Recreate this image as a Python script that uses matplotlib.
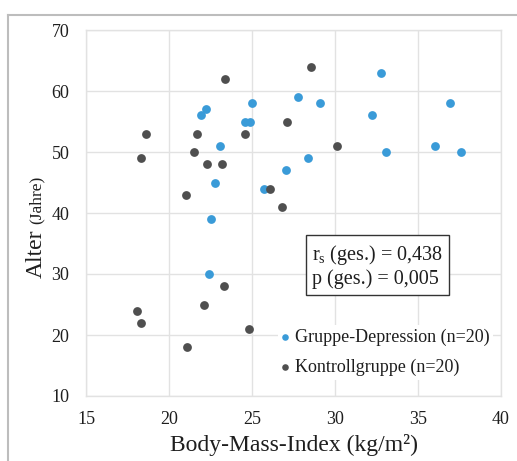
import matplotlib
matplotlib.use("Agg")
import matplotlib.pyplot as plt
from matplotlib.lines import Line2D

plt.rcParams["font.family"] = ["Liberation Serif", "DejaVu Serif"]
plt.rcParams["mathtext.fontset"] = "custom"
plt.rcParams["mathtext.rm"] = "Liberation Serif"
plt.rcParams["mathtext.it"] = "Liberation Serif:italic"

# BMI (kg/m²) and age (years) per participant
dep_bmi = [27.8, 25.0, 22.2, 21.9, 24.6, 24.9, 23.05, 27.05, 22.8, 25.7,
           22.5, 32.75, 29.1, 36.9, 32.2, 36.0, 33.1, 37.6, 28.4, 22.4]
dep_age = [59, 58, 57, 56, 55, 55, 51, 47, 45, 44,
           39, 63, 58, 58, 56, 51, 50, 50, 49, 30]

ctl_bmi = [23.4, 27.1, 18.6, 21.7, 24.6, 21.5, 18.3, 22.3, 23.2, 26.1,
           21.0, 26.8, 28.55, 30.1, 23.3, 22.1, 18.1, 18.3, 24.8, 21.1]
ctl_age = [62, 55, 53, 53, 53, 50, 49, 48, 48, 44,
           43, 41, 64, 51, 28, 25, 24, 22, 21, 18]

x_ticks = [15, 20, 25, 30, 35, 40]
y_ticks = [10, 20, 30, 40, 50, 60, 70]

labels = ["Gruppe-Depression (n=20)", "Kontrollgruppe (n=20)"]
stats_text = "r$_{\\mathrm{s}}$ (ges.) = 0,438\np (ges.) = 0,005"

BLUE = "#3a9bd8"
DARK = "#4f4f4f"
GRID = "#e2e2e2"
TEXT = "#1e1e1e"

W, H = 517, 461
fig = plt.figure(figsize=(W / 100, H / 100), dpi=100)
ax = fig.add_axes([86 / W, 1 - 396 / H, (501 - 86) / W, (396 - 30) / H])

ax.scatter(dep_bmi, dep_age, s=40, color=BLUE, linewidths=0, zorder=3, label=labels[0])
ax.scatter(ctl_bmi, ctl_age, s=40, color=DARK, linewidths=0, zorder=3, label=labels[1])

ax.set_xlim(15, 40)
ax.set_ylim(10, 70)
ax.set_xticks(x_ticks)
ax.set_yticks(y_ticks)
ax.grid(True, color=GRID, linewidth=1.0, zorder=0)
ax.set_axisbelow(True)
for s in ax.spines.values():
    s.set_color(GRID)
    s.set_linewidth(1.0)
ax.tick_params(length=0, labelsize=13, colors=TEXT)
ax.tick_params(axis="x", pad=11)
ax.tick_params(axis="y", pad=12)

ax.set_xlabel("Body-Mass-Index (kg/m²)", fontsize=17, color=TEXT, labelpad=4)

# y label: "Alter" larger than the unit
fig.text(36 / W, 1 - 254 / H, "Alter", rotation=90, fontsize=17,
         ha="center", va="center", color=TEXT)
fig.text(37 / W, 1 - 200 / H, "(Jahre)", rotation=90, fontsize=12.5,
         ha="center", va="center", color=TEXT)

ax.text(312 / W, 1 - 266 / H, stats_text, transform=fig.transFigure,
        fontsize=14.5, ha="left", va="center", linespacing=1.2, color=TEXT,
        bbox=dict(boxstyle="square,pad=0.3", facecolor="white",
                  edgecolor="#333333", linewidth=1.0), zorder=5)

leg = ax.legend(loc="upper left", bbox_to_anchor=(269 / W, 1 - 316 / H),
                bbox_transform=fig.transFigure, fontsize=13, frameon=True,
                facecolor="white", edgecolor="none", framealpha=1,
                handlelength=0.4, handletextpad=0.35, labelspacing=0.7,
                borderpad=0.2, markerscale=0.75, fancybox=False)
for t in leg.get_texts():
    t.set_color(TEXT)

# outer chart frame (top and left edges)
frame = "#bdbdbd"
fig.add_artist(Line2D([8 / W, 1], [1 - 15 / H, 1 - 15 / H], color=frame, linewidth=1.5,
                      transform=fig.transFigure))
fig.add_artist(Line2D([8 / W, 8 / W], [0, 1 - 15 / H], color=frame, linewidth=1.5,
                      transform=fig.transFigure))

fig.savefig("out.png", dpi=100)
